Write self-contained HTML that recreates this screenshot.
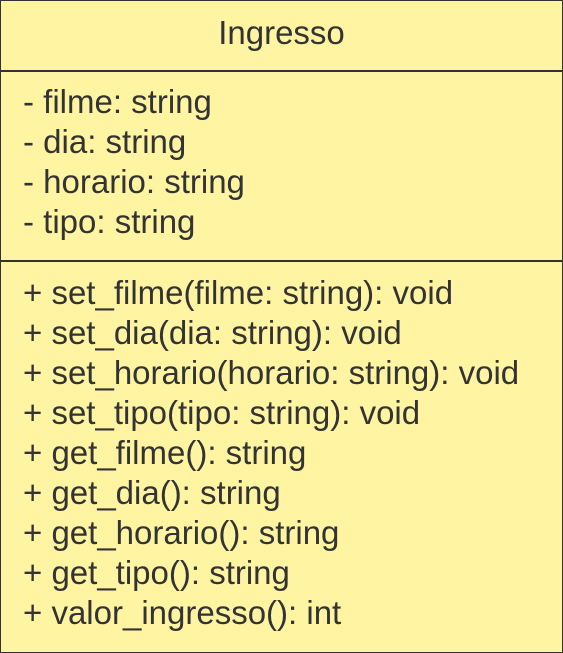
<!DOCTYPE html>
<html><head><style>
html,body{margin:0;padding:0;background:#fff;}
.box{position:absolute;left:0;top:0;width:561px;height:651px;border:1px solid #333;background:#fff4a1;font-family:"Liberation Sans",Arial,sans-serif;color:#333;font-size:33px;}
.t{position:absolute;left:0;width:561px;text-align:center;top:13px;line-height:38px;}
.hr{position:absolute;left:0;width:561px;height:2px;background:#333;}
.l{position:absolute;left:22px;line-height:40px;white-space:nowrap;}
</style></head><body>
<div class="box">
<div class="t">Ingresso</div>
<div class="hr" style="top:69px"></div>
<div class="l" style="top:81px">- filme: string<br>- dia: string<br>- horario: string<br>- tipo: string</div>
<div class="hr" style="top:259px"></div>
<div class="l" style="top:272px">+ set_filme(filme: string): void<br>+ set_dia(dia: string): void<br>+ set_horario(horario: string): void<br>+ set_tipo(tipo: string): void<br>+ get_filme(): string<br>+ get_dia(): string<br>+ get_horario(): string<br>+ get_tipo(): string<br>+ valor_ingresso(): int</div>
</div>
</body></html>
